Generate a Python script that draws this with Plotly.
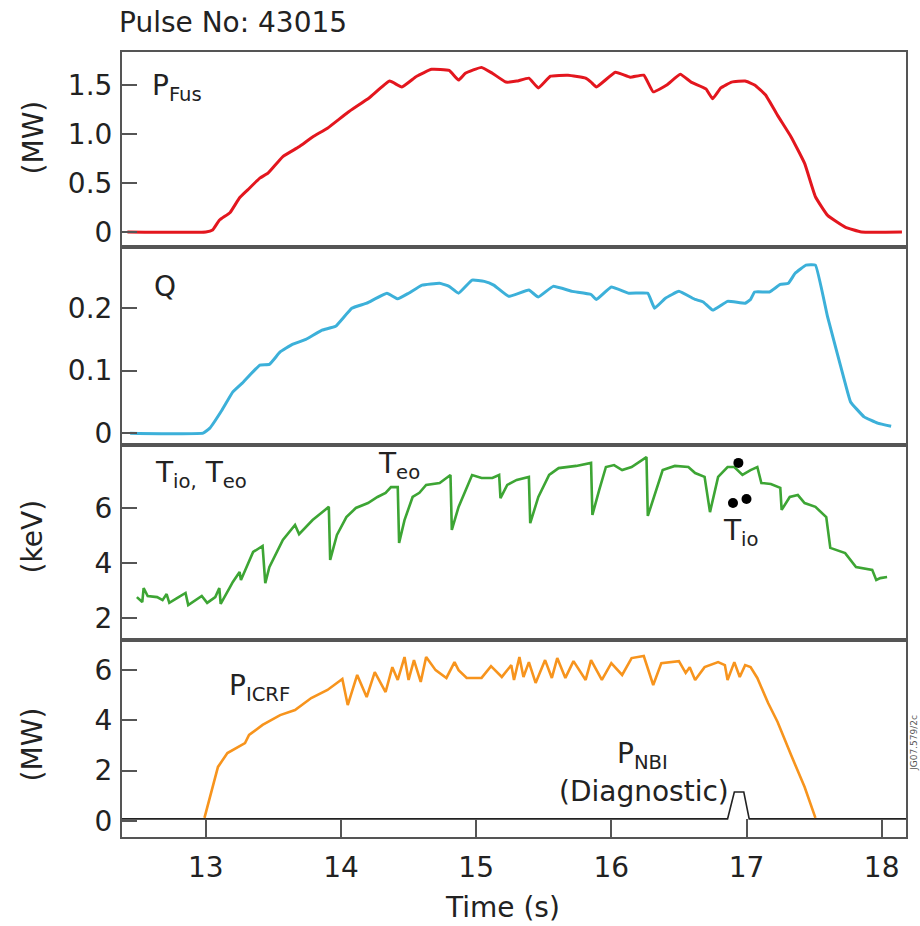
import plotly.graph_objects as go

# ---------------- data ----------------
pfus_t = [12.42, 13.0, 13.05, 13.10, 13.18, 13.25, 13.31, 13.40, 13.46, 13.57, 13.69, 13.79, 13.90, 14.05,
          14.21, 14.36, 14.45, 14.56, 14.67, 14.80, 14.87, 14.92, 15.04, 15.12, 15.22, 15.30, 15.39, 15.46,
          15.55, 15.68, 15.81, 15.85, 15.89, 16.03, 16.14, 16.24, 16.31, 16.41, 16.51, 16.59, 16.70, 16.75,
          16.81, 16.89, 16.99, 17.06, 17.14, 17.23, 17.33, 17.43, 17.51, 17.60, 17.73, 17.85, 18.15]
pfus_v = [0.0, 0.0, 0.02, 0.12, 0.20, 0.35, 0.43, 0.55, 0.60, 0.77, 0.87, 0.97, 1.06, 1.22,
          1.37, 1.54, 1.48, 1.59, 1.66, 1.65, 1.55, 1.62, 1.68, 1.62, 1.53, 1.54, 1.57, 1.47,
          1.59, 1.60, 1.57, 1.53, 1.48, 1.63, 1.58, 1.60, 1.43, 1.50, 1.61, 1.53, 1.46, 1.36,
          1.47, 1.53, 1.54, 1.50, 1.40, 1.19, 0.97, 0.70, 0.36, 0.17, 0.05, 0.0, 0.0]

q_t = [12.44, 12.98, 13.03, 13.12, 13.20, 13.27, 13.40, 13.47, 13.55, 13.64, 13.74, 13.86, 13.96, 14.08,
       14.19, 14.34, 14.42, 14.50, 14.60, 14.73, 14.80, 14.87, 14.97, 15.06, 15.13, 15.24, 15.39, 15.46,
       15.57, 15.71, 15.85, 15.89, 16.00, 16.13, 16.27, 16.32, 16.40, 16.50, 16.62, 16.68, 16.75, 16.86,
       16.99, 17.03, 17.06, 17.17, 17.25, 17.31, 17.36, 17.44, 17.51, 17.60, 17.73, 17.77, 17.87, 17.97, 18.07]
q_v = [0.0, 0.0, 0.008, 0.037, 0.066, 0.080, 0.109, 0.110, 0.130, 0.142, 0.150, 0.165, 0.171, 0.200,
       0.208, 0.224, 0.215, 0.224, 0.237, 0.240, 0.235, 0.224, 0.245, 0.243, 0.237, 0.219, 0.229, 0.218,
       0.235, 0.227, 0.222, 0.214, 0.234, 0.224, 0.224, 0.200, 0.216, 0.227, 0.214, 0.210, 0.197, 0.211,
       0.208, 0.214, 0.226, 0.226, 0.238, 0.240, 0.256, 0.269, 0.269, 0.186, 0.080, 0.050, 0.026, 0.016, 0.011]

te_t = [12.49, 12.53, 12.54, 12.57, 12.64, 12.68, 12.71, 12.73, 12.79, 12.85, 12.87, 12.93, 12.97, 13.01,
        13.07, 13.10, 13.11, 13.18, 13.20, 13.25, 13.26, 13.35, 13.42, 13.44, 13.47, 13.57, 13.66, 13.69,
        13.79, 13.91, 13.92, 13.97, 14.04, 14.11, 14.20, 14.27, 14.33, 14.37, 14.42, 14.43, 14.47, 14.53,
        14.58, 14.63, 14.73, 14.81, 14.82, 14.87, 14.97, 15.04, 15.12, 15.17, 15.18, 15.23, 15.30, 15.39,
        15.40, 15.46, 15.54, 15.61, 15.74, 15.85, 15.86, 15.91, 15.96, 16.02, 16.08, 16.15, 16.26, 16.27,
        16.33, 16.38, 16.47, 16.57, 16.62, 16.69, 16.73, 16.79, 16.86, 16.91, 16.97, 17.03, 17.08, 17.11,
        17.18, 17.25, 17.26, 17.32, 17.38, 17.43, 17.51, 17.59, 17.62, 17.73, 17.81, 17.93, 17.96, 17.99, 18.04]
te_v = [2.76, 2.58, 3.09, 2.80, 2.76, 2.65, 2.87, 2.55, 2.73, 2.91, 2.47, 2.65, 2.80, 2.55,
        2.76, 3.09, 2.51, 3.13, 3.31, 3.67, 3.38, 4.40, 4.62, 3.27, 3.85, 4.84, 5.38, 5.05,
        5.56, 6.04, 4.11, 5.02, 5.67, 6.00, 6.18, 6.40, 6.55, 6.76, 6.76, 4.73, 5.56, 6.40,
        6.55, 6.84, 6.91, 7.20, 5.20, 6.04, 7.20, 7.09, 7.09, 7.20, 6.36, 6.84, 7.02, 7.13,
        5.45, 6.40, 7.20, 7.45, 7.53, 7.64, 5.75, 6.65, 7.49, 7.56, 7.38, 7.49, 7.85, 5.71,
        6.65, 7.38, 7.53, 7.49, 7.27, 7.13, 5.85, 7.13, 7.49, 7.49, 7.20, 7.38, 7.49, 6.91,
        6.87, 6.73, 5.93, 6.40, 6.47, 6.18, 6.04, 5.67, 4.55, 4.36, 3.85, 3.75, 3.38, 3.45, 3.49]

ti_t = [16.94, 16.90, 17.00]
ti_v = [7.64, 6.18, 6.33]

picrf_t = [12.99, 13.04, 13.09, 13.16, 13.29, 13.32, 13.42, 13.55, 13.66, 13.78, 13.90, 14.01, 14.05, 14.12,
           14.19, 14.25, 14.33, 14.38, 14.42, 14.47, 14.50, 14.54, 14.59, 14.63, 14.70, 14.78, 14.84, 14.87,
           14.93, 15.04, 15.11, 15.19, 15.26, 15.28, 15.32, 15.35, 15.39, 15.44, 15.51, 15.56, 15.60, 15.66,
           15.72, 15.81, 15.85, 15.93, 16.00, 16.08, 16.15, 16.24, 16.31, 16.37, 16.50, 16.55, 16.58, 16.62,
           16.69, 16.79, 16.84, 16.86, 16.91, 16.95, 16.99, 17.03, 17.08, 17.16, 17.23, 17.33, 17.43, 17.51]
picrf_v = [0.12, 1.11, 2.15, 2.70, 3.10, 3.42, 3.82, 4.21, 4.41, 4.89, 5.21, 5.65, 4.61, 5.81,
           4.93, 5.92, 5.13, 6.12, 5.61, 6.52, 5.61, 6.40, 5.53, 6.52, 6.00, 5.69, 6.32, 6.00,
           5.69, 5.69, 6.16, 5.73, 6.20, 5.61, 6.52, 5.73, 6.32, 5.49, 6.40, 5.69, 6.48, 5.69,
           6.36, 5.61, 6.40, 5.61, 6.28, 5.81, 6.48, 6.56, 5.41, 6.28, 6.36, 5.89, 6.12, 5.61,
           6.12, 6.32, 6.20, 5.61, 6.32, 5.73, 6.20, 6.12, 5.69, 4.69, 3.94, 2.62, 1.35, 0.12]

pnbi_t = [12.38, 16.86, 16.91, 16.98, 17.02, 18.18]
pnbi_v = [0.08, 0.08, 1.15, 1.15, 0.08, 0.08]

x_ticks = [13, 14, 15, 16, 17, 18]
y1_ticks = [0, 0.5, 1.0, 1.5]
y1_labels = ["0", "0.5", "1.0", "1.5"]
y2_ticks = [0, 0.1, 0.2]
y2_labels = ["0", "0.1", "0.2"]
y3_ticks = [2, 4, 6]
y4_ticks = [0, 2, 4, 6]

# ---------------- figure ----------------
FONT = "DejaVu Sans"
FS = 28
TXT = "#222222"
FRAME = "#555555"
XR = [12.38, 18.18]

fig = go.Figure()
fig.add_trace(go.Scatter(x=pfus_t, y=pfus_v, mode="lines",
                         line=dict(color="#e3161e", width=3, shape="spline", smoothing=0.35),
                         xaxis="x", yaxis="y", showlegend=False))
fig.add_trace(go.Scatter(x=q_t, y=q_v, mode="lines",
                         line=dict(color="#3cb0d9", width=3, shape="spline", smoothing=0.3),
                         xaxis="x2", yaxis="y2", showlegend=False))
fig.add_trace(go.Scatter(x=te_t, y=te_v, mode="lines", line=dict(color="#3da534", width=2.6),
                         xaxis="x3", yaxis="y3", showlegend=False))
fig.add_trace(go.Scatter(x=ti_t, y=ti_v, mode="markers", marker=dict(color="black", size=10),
                         xaxis="x3", yaxis="y3", showlegend=False))
fig.add_trace(go.Scatter(x=pnbi_t, y=pnbi_v, mode="lines", line=dict(color="#222222", width=1.6),
                         xaxis="x4", yaxis="y4", showlegend=False))
fig.add_trace(go.Scatter(x=picrf_t, y=picrf_v, mode="lines", line=dict(color="#f7941d", width=2.6),
                         xaxis="x4", yaxis="y4", showlegend=False))

doms = [[0.75159, 1.0], [0.49936, 0.75159], [0.25096, 0.49936], [0.0, 0.25096]]
yranges = [[-0.153, 1.837], [-0.019, 0.298], [1.2, 8.29], [-0.64, 7.2]]
yticks = [(y1_ticks, y1_labels), (y2_ticks, y2_labels), (y3_ticks, [str(v) for v in y3_ticks]),
          (y4_ticks, [str(v) for v in y4_ticks])]

layout = dict(
    width=920, height=926,
    margin=dict(l=122, r=12, t=52, b=89),
    paper_bgcolor="white", plot_bgcolor="white",
    font=dict(family=FONT, size=FS, color=TXT),
    showlegend=False,
)
for i in range(4):
    sx = "" if i == 0 else str(i + 1)
    xa = dict(domain=[0, 1], anchor="y" + sx, range=XR, showline=True, mirror=True,
              linecolor=FRAME, linewidth=2, showgrid=False, zeroline=False, fixedrange=True)
    if i < 3:
        xa.update(showticklabels=False, ticks="")
    else:
        xa.update(tickmode="array", tickvals=x_ticks, ticktext=[str(v) for v in x_ticks],
                  ticks="inside", ticklen=18, tickwidth=2, tickcolor=FRAME,
                  tickfont=dict(family=FONT, size=FS, color=TXT), ticklabelstandoff=4)
    ya = dict(domain=doms[i], anchor="x" + sx, range=yranges[i], showline=True, mirror=True,
              linecolor=FRAME, linewidth=2, showgrid=False, zeroline=False, fixedrange=True,
              tickmode="array", tickvals=yticks[i][0], ticktext=yticks[i][1],
              ticks="inside", ticklen=15, tickwidth=2, tickcolor=FRAME,
              tickfont=dict(family=FONT, size=FS, color=TXT), ticklabelstandoff=2)
    layout["xaxis" + sx] = xa
    layout["yaxis" + sx] = ya

fig.update_layout(**layout)

ann = []
def A(text, x, y, xref, yref, xanchor="left", yanchor="middle", size=FS, angle=0, color=TXT):
    ann.append(dict(text=text, x=x, y=y, xref=xref, yref=yref, xanchor=xanchor, yanchor=yanchor,
                    showarrow=False, textangle=angle, font=dict(family=FONT, size=size, color=color)))

A("Pulse No: 43015", -0.007, 1.037, "paper", "paper")
A("P<sub>Fus</sub>", 12.59, 1.47, "x", "y")
A("Q", 12.60, 0.235, "x2", "y2")
A("T<sub>io,</sub> T<sub>eo</sub>", 12.61, 7.20, "x3", "y3")
A("T<sub>eo</sub>", 14.26, 7.53, "x3", "y3")
A("T<sub>io</sub>", 16.81, 5.10, "x3", "y3")
A("P<sub>ICRF</sub>", 13.155, 5.30, "x4", "y4")
A("P<sub>NBI</sub>", 16.03, 2.60, "x4", "y4")
A("(Diagnostic)", 15.60, 1.19, "x4", "y4")
A("(MW)", -0.113, 0.8917, "paper", "paper", xanchor="center", angle=-90)
A("(keV)", -0.113, 0.3822, "paper", "paper", xanchor="center", angle=-90)
A("(MW)", -0.113, 0.1185, "paper", "paper", xanchor="center", angle=-90)
A("Time (s)", 0.4847, -0.0904, "paper", "paper", xanchor="center")
A("JG07.579/2c", 1.0015, 0.12, "paper", "paper", xanchor="left", size=9, angle=-90, color="#555555")
fig.update_layout(annotations=ann)

fig.write_html("out.html")
